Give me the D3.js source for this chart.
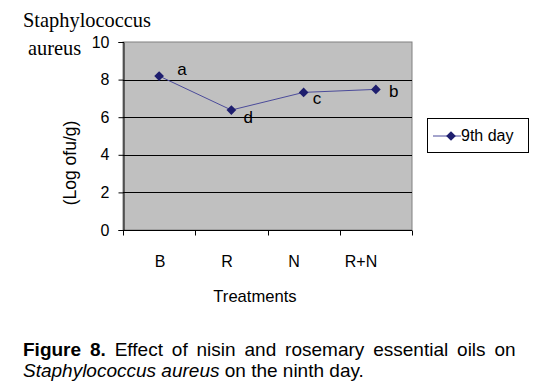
<!DOCTYPE html>
<html>
<head>
<meta charset="utf-8">
<script src="https://cdn.jsdelivr.net/npm/d3@7"></script>
<style>
  body { margin: 0; background: #fff; }
  svg text { font-family: "Liberation Sans", Arial, sans-serif; }
</style>
</head>
<body>
<div id="graph-container"></div>
<script>
// Data
const treatments = ["B", "R", "N", "R+N"];
const day9 = [8.19, 6.38, 7.32, 7.48];
const letters = ["a", "d", "c", "b"];
const yTicks = [0, 2, 4, 6, 8, 10];

// Chart area
const W = 541, H = 388;
const plot = { left: 123, right: 412, top: 42, bottom: 230 };

const svg = d3.select("#graph-container")
    .append("svg")
        .attr("width", W)
        .attr("height", H);

const x = d3.scaleBand()
    .domain(treatments)
    .range([plot.left, plot.right]);

// category labels sit a little tighter than the points (as in the original)
const xLabel = d3.scalePoint()
    .domain(treatments)
    .range([160, 361]);

const y = d3.scaleLinear()
    .domain([0, 10])
    .range([plot.bottom, plot.top]);

// Grey plot background
svg.append("rect")
    .attr("x", plot.left)
    .attr("y", plot.top)
    .attr("width", plot.right - plot.left)
    .attr("height", plot.bottom - plot.top)
    .attr("fill", "#c0c0c0")
    .attr("stroke", "#808080")
    .attr("stroke-width", 1);

// Gridlines
svg.append("g")
    .selectAll("line")
    .data(yTicks.filter(d => d > 0 && d < 10))
    .join("line")
        .attr("x1", plot.left)
        .attr("x2", plot.right)
        .attr("y1", d => Math.round(y(d)) + 0.5)
        .attr("y2", d => Math.round(y(d)) + 0.5)
        .attr("stroke", "#000")
        .attr("stroke-width", 1);

// Y axis
const yAxis = svg.append("g")
    .attr("transform", `translate(${plot.left + 0.5},0)`)
    .call(d3.axisLeft(y).tickValues(yTicks).tickSize(5).tickPadding(9));
yAxis.select(".domain").attr("stroke", "#000");
yAxis.selectAll("text")
    .attr("font-size", 16)
    .attr("fill", "#000")
    .style("font-family", "'Liberation Sans', Arial, sans-serif");

// X axis with ticks between categories
const xAxis = svg.append("g")
    .attr("transform", `translate(0,${plot.bottom + 0.5})`);
xAxis.append("line")
    .attr("x1", plot.left)
    .attr("x2", plot.right)
    .attr("stroke", "#000");
xAxis.selectAll(".tk")
    .data(d3.range(treatments.length + 1))
    .join("line")
        .attr("class", "tk")
        .attr("x1", i => Math.round(plot.left + i * x.step()) + 0.5)
        .attr("x2", i => Math.round(plot.left + i * x.step()) + 0.5)
        .attr("y1", 0)
        .attr("y2", 5)
        .attr("stroke", "#000");
xAxis.selectAll(".lbl")
    .data(treatments)
    .join("text")
        .attr("class", "lbl")
        .attr("x", d => xLabel(d))
        .attr("y", 36)
        .attr("text-anchor", "middle")
        .attr("font-size", 16)
        .text(d => d);

// Axis titles
svg.append("text")
    .attr("x", 255)
    .attr("y", 302)
    .attr("text-anchor", "middle")
    .attr("font-size", 16.6)
    .text("Treatments");

svg.append("text")
    .attr("transform", "translate(76,163) rotate(-90)")
    .attr("text-anchor", "middle")
    .attr("font-size", 17.5)
    .text("(Log ofu/g)");

svg.append("text")
    .attr("x", 23)
    .attr("y", 27)
    .attr("font-size", 20.4)
    .style("font-family", "'Liberation Serif', 'Times New Roman', serif")
    .text("Staphylococcus");
svg.append("text")
    .attr("x", 28)
    .attr("y", 55)
    .attr("font-size", 20.4)
    .style("font-family", "'Liberation Serif', 'Times New Roman', serif")
    .text("aureus");

// Line
const cx = i => x(treatments[i]) + x.bandwidth() / 2;
const line = d3.line()
    .x((d, i) => cx(i))
    .y(d => y(d));

svg.append("path")
    .datum(day9)
    .attr("fill", "none")
    .attr("stroke", "#4b4b9a")
    .attr("stroke-width", 1)
    .attr("d", line);

const diamond = d3.symbol().type(d3.symbolDiamond2).size(60);
svg.selectAll(".pt")
    .data(day9)
    .join("path")
        .attr("class", "pt")
        .attr("transform", (d, i) => `translate(${cx(i)},${y(d)})`)
        .attr("d", diamond)
        .attr("fill", "#1e1e6e");

// Significance letters
const letterOffset = [[18, -1], [12, 13], [9, 12], [13, 8]];
svg.selectAll(".let")
    .data(day9)
    .join("text")
        .attr("class", "let")
        .attr("x", (d, i) => cx(i) + letterOffset[i][0])
        .attr("y", (d, i) => y(d) + letterOffset[i][1])
        .attr("font-size", 17)
        .text((d, i) => letters[i]);

// Legend
const lg = svg.append("g").attr("transform", "translate(427,118)");
lg.append("rect")
    .attr("x", 0.5).attr("y", 0.5)
    .attr("width", 101).attr("height", 34)
    .attr("fill", "#fff")
    .attr("stroke", "#000");
lg.append("line")
    .attr("x1", 6).attr("x2", 34)
    .attr("y1", 18).attr("y2", 18)
    .attr("stroke", "#4b4b9a");
lg.append("path")
    .attr("transform", "translate(24,18)")
    .attr("d", diamond)
    .attr("fill", "#1e1e6e");
lg.append("text")
    .attr("x", 34)
    .attr("y", 23)
    .attr("font-size", 16)
    .text("9th day");

// Caption (first line justified by widening word gaps)
const cap1 = svg.append("text")
    .attr("x", 23)
    .attr("y", 356)
    .attr("font-size", 19);
cap1.append("tspan").attr("font-weight", "bold").text("Figure 8.");
cap1.append("tspan").text(" Effect of nisin and rosemary essential oils on");
const natural = cap1.node().getComputedTextLength();
const gaps = 8;
cap1.attr("word-spacing", Math.max(0, (489 - natural) / gaps));

const cap2 = svg.append("text")
    .attr("x", 23)
    .attr("y", 377)
    .attr("font-size", 19);
cap2.append("tspan").attr("font-style", "italic").text("Staphylococcus aureus");
cap2.append("tspan").text(" on the ninth day.");
</script>
</body>
</html>
